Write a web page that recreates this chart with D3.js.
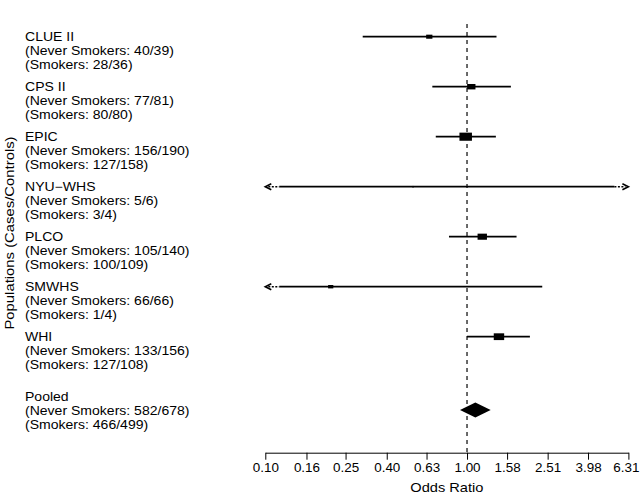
<!DOCTYPE html>
<html><head><meta charset="utf-8">
<script src="https://cdn.jsdelivr.net/npm/d3@7/dist/d3.min.js"></script>
<style>body{margin:0;background:#fff}svg{display:block}text{font-family:"Liberation Sans",Arial,sans-serif;fill:#000}</style>
</head><body><svg id="c" width="640" height="496"></svg>
<script>
const studies = ["CLUE II","CPS II","EPIC","NYU\u2212WHS","PLCO","SMWHS","WHI"];
const neverCounts = ["40/39","77/81","156/190","5/6","105/140","66/66","133/156"];
const smokerCounts = ["28/36","80/80","127/158","3/4","100/109","1/4","127/108"];
const orValues = [0.65, 1.05, 0.985, 0.54, 1.19, 0.211, 1.44];
const lowerCI = [0.304, 0.673, 0.70, 0.01, 0.814, 0.01, 1.00];
const upperCI = [1.40, 1.65, 1.39, 50, 1.76, 2.36, 2.05];
const weights = [36, 64, 144, 1, 81, 25, 100];
const pooledLabel = ["Pooled","(Never Smokers: 582/678)","(Smokers: 466/499)"];
const pooled = {or: 1.10, lo: 0.923, hi: 1.31};
const tickValues = [0.10, 0.16, 0.25, 0.40, 0.63, 1.00, 1.58, 2.51, 3.98, 6.31];

const SX = 1.17; // horizontal glyph stretch seen in the reference
const svg = d3.select("#c");
const x = d3.scaleLog().domain([0.1, 6.31]).range([265.3, 628.4]);
const y = d3.scalePoint().domain(d3.range(studies.length)).range([36.7, 336.7]);
const pooledY = 410;
const axisY = 452.7;
const bw = d3.scaleSqrt().domain([0, 144]).range([0, 12.5]);

// reference line
svg.append("line").attr("x1", x(1)).attr("x2", x(1)).attr("y1", 24).attr("y2", axisY)
  .attr("stroke", "#444").attr("stroke-width", 1.6).attr("stroke-dasharray", "4,4");

const [xmin, xmax] = x.range();
const g = svg.append("g");
studies.forEach((s, i) => {
  const cy = y(i);
  const lo = Math.max(x(lowerCI[i]), xmin), hi = Math.min(x(upperCI[i]), xmax);
  const clipL = x(lowerCI[i]) < xmin, clipR = x(upperCI[i]) > xmax;
  const l1 = clipL ? lo + 14 : lo, l2 = clipR ? hi - 14 : hi;
  g.append("line").attr("x1", l1).attr("x2", l2).attr("y1", cy).attr("y2", cy)
    .attr("stroke", "#000").attr("stroke-width", 1.7);
  if (clipL) {
    g.append("line").attr("x1", lo + 3).attr("x2", l1).attr("y1", cy).attr("y2", cy)
      .attr("stroke", "#000").attr("stroke-width", 1.5).attr("stroke-dasharray", "2,1.5");
    g.append("path").attr("d", `M${lo+6},${cy-3}L${lo},${cy}L${lo+6},${cy+3}`)
      .attr("fill", "none").attr("stroke", "#000").attr("stroke-width", 1.6);
  }
  if (clipR) {
    g.append("line").attr("x1", l2).attr("x2", hi - 3).attr("y1", cy).attr("y2", cy)
      .attr("stroke", "#000").attr("stroke-width", 1.5).attr("stroke-dasharray", "2,1.5");
    g.append("path").attr("d", `M${hi-6},${cy-3}L${hi},${cy}L${hi-6},${cy+3}`)
      .attr("fill", "none").attr("stroke", "#000").attr("stroke-width", 1.6);
  }
  const w = Math.max(bw(weights[i]), 1.5), h = Math.max(w * 0.65, 1.5);
  g.append("rect").attr("x", x(orValues[i]) - w / 2).attr("y", cy - h / 2)
    .attr("width", w).attr("height", h).attr("fill", "#000");
  // labels
  const t = svg.append("text").attr("transform", `translate(25,${cy + 4.5}) scale(${SX},1)`)
    .attr("font-size", 12);
  t.append("tspan").attr("x", 0).attr("dy", 0).text(s);
  t.append("tspan").attr("x", 0).attr("dy", 14).text(`(Never Smokers: ${neverCounts[i]})`);
  t.append("tspan").attr("x", 0).attr("dy", 14).text(`(Smokers: ${smokerCounts[i]})`);
});

// pooled diamond
svg.append("path").attr("d",
  `M${x(pooled.lo)},${pooledY}L${x(pooled.or)},${pooledY-7.5}L${x(pooled.hi)},${pooledY}L${x(pooled.or)},${pooledY+7.5}Z`)
  .attr("fill", "#000");
const pt = svg.append("text").attr("transform", `translate(25,${pooledY - 14 + 4.5}) scale(${SX},1)`)
  .attr("font-size", 12);
pooledLabel.forEach((s, k) => pt.append("tspan").attr("x", 0).attr("dy", k ? 14.5 : 0).text(s));

// x axis
const ax = svg.append("g").attr("transform", `translate(0,${axisY})`)
  .call(d3.axisBottom(x).tickValues(tickValues).tickFormat(d3.format(".2f")).tickSize(7).tickSizeOuter(0));
ax.select(".domain").attr("stroke", "#000");
ax.selectAll(".tick line").attr("stroke", "#000");
const nT = tickValues.length;
ax.selectAll(".tick text").attr("font-size", 12).attr("font-family", "Liberation Sans, Arial, sans-serif")
  .attr("y", 0).attr("dy", 0)
  .attr("transform", (d, i) => `translate(${i === nT - 1 ? -2.5 : 0},19) scale(1.12,1)`);
svg.append("text").attr("transform", `translate(${(xmin + xmax) / 2},492) scale(${SX},1)`)
  .attr("text-anchor", "middle").attr("font-size", 12.5).text("Odds Ratio");

svg.append("text").attr("transform", `translate(13.5,233) rotate(-90) scale(${SX},1)`).attr("text-anchor", "middle")
  .attr("font-size", 12.7).text("Populations (Cases/Controls)");
</script></body></html>
